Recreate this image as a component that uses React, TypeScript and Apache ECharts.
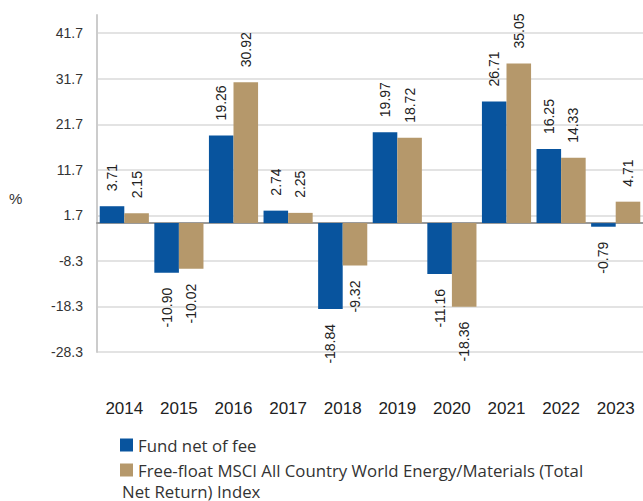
import React, { useEffect, useRef } from "react";
import * as echarts from "echarts";

const years = ["2014", "2015", "2016", "2017", "2018", "2019", "2020", "2021", "2022", "2023"];
const fundValues = [3.71, -10.9, 19.26, 2.74, -18.84, 19.97, -11.16, 26.71, 16.25, -0.79];
const indexValues = [2.15, -10.02, 30.92, 2.25, -9.32, 18.72, -18.36, 35.05, 14.33, 4.71];
const yTicks = [-28.3, -18.3, -8.3, 1.7, 11.7, 21.7, 31.7, 41.7];
const fundName = "Fund net of fee";
const indexName = "Free-float MSCI All Country World Energy/Materials (Total Net Return) Index";
const indexLegendLine1 = "Free-float MSCI All Country World Energy/Materials (Total";
const indexLegendLine2 = "Net Return) Index";

const BLUE = "#08549E";
const TAN = "#B5986B";
const LEGEND_FONT = "'Open Sans', 'Noto Sans', sans-serif";

export default function App() {
  const ref = useRef<HTMLDivElement>(null);
  useEffect(() => {
    if (!ref.current) return;
    const chart = echarts.init(ref.current, null, { renderer: "svg" });
    const barLabel = {
      show: true,
      rotate: 90,
      distance: 15,
      fontFamily: "'Liberation Sans', Arial, sans-serif",
      fontSize: 14,
      color: "#222",
      formatter: (p: any) => Number(p.value).toFixed(2),
    };
    const makeData = (vals: number[]) =>
      vals.map((v) => ({
        value: v,
        label:
          v >= 0
            ? { position: "top", align: "left", verticalAlign: "middle" }
            : { position: "bottom", align: "right", verticalAlign: "middle" },
      }));
    chart.setOption({
      animation: false,
      grid: { left: 97, right: 0, top: 15, bottom: 149, containLabel: false },
      legend: {
        orient: "vertical",
        left: 115,
        top: 431,
        itemWidth: 13,
        itemHeight: 13,
        itemGap: 7,
        icon: "rect",
        textStyle: { fontFamily: LEGEND_FONT, fontSize: 16.8, lineHeight: 18, color: "#333" },
        formatter: (name: string) => (name === indexName ? indexLegendLine1 : name),
        data: [fundName, indexName],
      },
      graphic: [
        {
          type: "text",
          left: 122,
          top: 482,
          style: {
            text: indexLegendLine2,
            fontFamily: LEGEND_FONT,
            fontSize: 16.8,
            lineHeight: 18,
            fill: "#333",
          },
        },
        {
          type: "text",
          left: 9,
          top: 191,
          style: {
            text: "%",
            font: "15px 'Liberation Sans', Arial, sans-serif",
            fill: "#333",
          },
        },
      ],
      xAxis: [
        {
          type: "category",
          data: years,
          axisLine: { show: false, onZero: false },
          axisTick: { show: false },
          axisLabel: {
            margin: 48,
            fontFamily: "'Liberation Sans', Arial, sans-serif",
            fontSize: 17,
            color: "#222",
          },
        },
        {
          type: "category",
          data: years,
          position: "bottom",
          axisLine: { show: true, onZero: true, lineStyle: { color: "#9a9a9a", width: 2 } },
          axisTick: { show: false },
          axisLabel: { show: false },
        },
      ],
      yAxis: {
        type: "value",
        min: -28.3,
        max: 45.7,
        axisLine: { show: true, lineStyle: { color: "#cccccc", width: 2 } },
        axisTick: { show: false, customValues: yTicks },
        axisLabel: {
          customValues: yTicks,
          margin: 14,
          fontFamily: "'Liberation Sans', Arial, sans-serif",
          fontSize: 14,
          color: "#333",
          formatter: (v: number) => v.toFixed(1),
        },
        splitLine: { show: true, lineStyle: { color: "#e3e3e3", width: 2 } },
      },
      series: [
        {
          name: fundName,
          type: "bar",
          data: makeData(fundValues),
          itemStyle: { color: BLUE },
          barGap: "0%",
          barCategoryGap: "10%",
          label: barLabel,
        },
        {
          name: indexName,
          type: "bar",
          data: makeData(indexValues),
          itemStyle: { color: TAN },
          barGap: "0%",
          barCategoryGap: "10%",
          label: barLabel,
        },
      ],
    });
    return () => chart.dispose();
  }, []);
  return <div ref={ref} style={{ width: 643, height: 501, position: "absolute", left: 0, top: 0 }} />;
}
